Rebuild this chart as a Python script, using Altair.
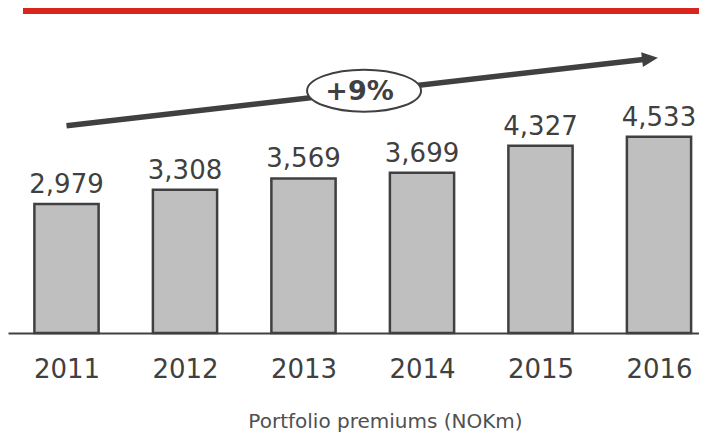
import altair as alt
import pandas as pd

# Bar data
years = [2011, 2012, 2013, 2014, 2015, 2016]
premiums = [2979, 3308, 3569, 3699, 4327, 4533]

# Growth arrow annotation (data coordinates: year, NOKm)
arrow_x = [2011.0, 2015.924]
arrow_y = [4788, 6335]
ellipse_x = [2013.511]
ellipse_y = [5596]
growth_x = [2013.473]
growth_y = [5372]
growth_text = ["+9%"]

axis_title = "Portfolio premiums (NOKm)"

FONT = "DejaVu Sans"
DARK = "#404040"

bars_df = pd.DataFrame({"year": years, "value": premiums})
arrow_df = pd.DataFrame({"x": arrow_x, "y": arrow_y})
head_df = pd.DataFrame({"x": arrow_x[-1:], "y": arrow_y[-1:]})
ellipse_df = pd.DataFrame({"x": ellipse_x, "y": ellipse_y})
growth_df = pd.DataFrame({"x": growth_x, "y": growth_y, "t": growth_text})

xscale = alt.Scale(domain=[2010.5063, 2016.3376], nice=False, zero=False)
yscale = alt.Scale(domain=[0, 7506], nice=False)

xaxis = alt.Axis(
    values=years, format="d", grid=False, ticks=False, tickSize=0,
    labelFontSize=26, labelFont=FONT, labelColor=DARK,
    labelBaseline="alphabetic", labelPadding=44, labelFlush=False,
    labelOverlap=False, domainColor=DARK, domainWidth=2,
    title=axis_title, titleFont=FONT, titleFontSize=20,
    titleFontWeight="normal", titleColor="#505050",
    titleBaseline="alphabetic", titleAlign="center", titleAnchor="start",
    titleX=377, titleY=94,
)

base = alt.Chart(bars_df).transform_calculate(
    x0="datum.year - 0.271", x1="datum.year + 0.271"
)

bars = base.mark_bar(fill="#bfbfbf", stroke=DARK, strokeWidth=2.5).encode(
    x=alt.X("x0:Q", scale=xscale, axis=xaxis),
    x2="x1:Q",
    y=alt.Y("value:Q", scale=yscale, axis=None),
    y2=alt.datum(0),
)

labels = alt.Chart(bars_df).mark_text(
    font=FONT, fontSize=26, color=DARK, baseline="alphabetic", dy=-11
).encode(
    x=alt.X("year:Q", scale=xscale),
    y=alt.Y("value:Q", scale=yscale),
    text=alt.Text("value:Q", format=","),
)

arrow_line = alt.Chart(arrow_df).mark_line(
    color=DARK, strokeWidth=5.5, strokeCap="butt"
).encode(
    x=alt.X("x:Q", scale=xscale),
    y=alt.Y("y:Q", scale=yscale),
)

arrow_head = alt.Chart(head_df).mark_point(
    shape="M-1,-0.94L1,0L-1,0.94Z", size=256, filled=True,
    color=DARK, opacity=1, angle=353.35,
).encode(
    x=alt.X("x:Q", scale=xscale),
    y=alt.Y("y:Q", scale=yscale),
)

ellipse = alt.Chart(ellipse_df).mark_point(
    shape="M-1,0A1,0.368,0,1,1,1,0A1,0.368,0,1,1,-1,0Z",
    size=114 * 114, filled=True, fill="white", stroke=DARK,
    strokeWidth=2, opacity=1,
).encode(
    x=alt.X("x:Q", scale=xscale),
    y=alt.Y("y:Q", scale=yscale),
)

growth_label = alt.Chart(growth_df).mark_text(
    font=FONT, fontSize=27, fontWeight="bold", color=DARK,
    baseline="alphabetic",
).encode(
    x=alt.X("x:Q", scale=xscale),
    y=alt.Y("y:Q", scale=yscale),
    text="t:N",
)

red_rule = alt.Chart(bars_df).mark_rule(color="#d9261c", strokeWidth=6).encode(
    x=alt.value(15), x2=alt.value(691), y=alt.value(3)
)

chart = alt.layer(
    bars, labels, arrow_line, ellipse, growth_label, arrow_head, red_rule
).properties(
    width=691, height=325,
    autosize=alt.AutoSizeParams(type="none"),
    padding={"left": 0, "top": 0, "right": 0, "bottom": 100},
    background="white",
).configure_view(stroke=None)

chart.save("out.html", embed_options={"renderer": "svg", "actions": False})
